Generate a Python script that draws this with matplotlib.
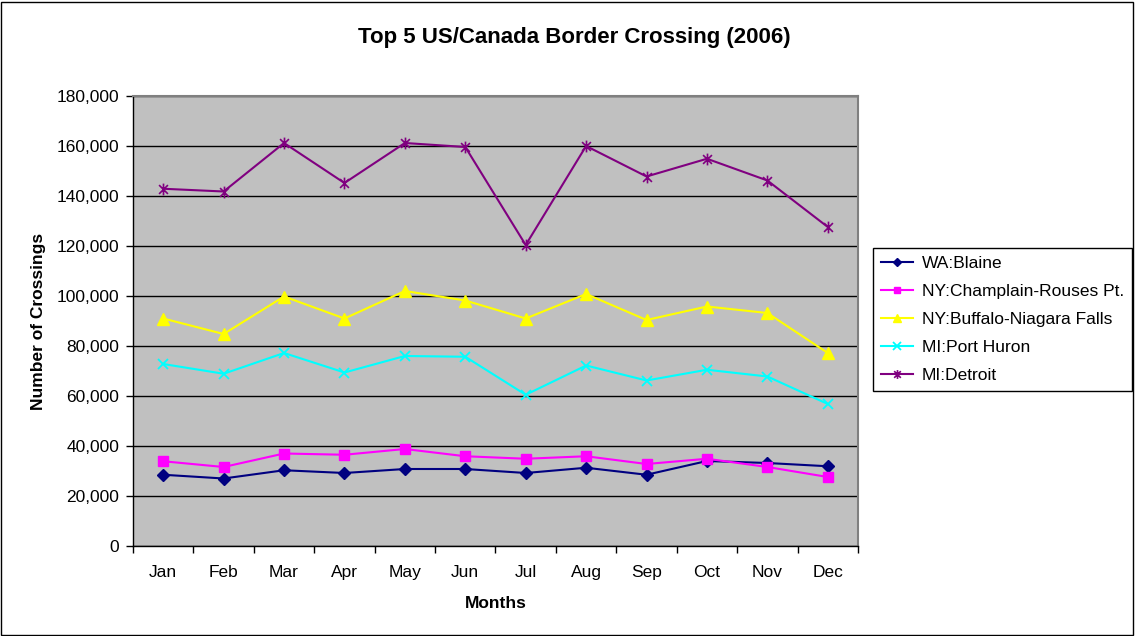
import matplotlib
matplotlib.use("Agg")
import matplotlib.pyplot as plt
from matplotlib.path import Path
from matplotlib.patches import Rectangle

plt.rcParams['font.family'] = ['Liberation Sans', 'DejaVu Sans']

months = ["Jan", "Feb", "Mar", "Apr", "May", "Jun", "Jul", "Aug", "Sep", "Oct", "Nov", "Dec"]
wa_blaine = [28500, 27000, 30300, 29200, 30800, 30800, 29200, 31300, 28500, 34000, 33200, 31900]
ny_champlain = [33900, 31600, 37000, 36500, 38800, 35900, 34900, 35900, 32800, 34900, 31600, 27600]
ny_buffalo = [91000, 84800, 99800, 91000, 102000, 98200, 91000, 100800, 90400, 95800, 93200, 77200]
mi_port_huron = [72800, 68900, 77200, 69400, 76000, 75700, 60500, 72200, 66200, 70500, 67800, 56800]
mi_detroit = [142900, 141800, 161200, 145200, 161200, 159600, 120400, 160000, 147800, 154900, 146200, 127600]
y_ticks = [0, 20000, 40000, 60000, 80000, 100000, 120000, 140000, 160000, 180000]

series = [
    ("WA:Blaine", wa_blaine),
    ("NY:Champlain-Rouses Pt.", ny_champlain),
    ("NY:Buffalo-Niagara Falls", ny_buffalo),
    ("MI:Port Huron", mi_port_huron),
    ("MI:Detroit", mi_detroit),
]

star = Path([(0, -1), (0, 1), (-0.75, -0.75), (0.75, 0.75), (-0.75, 0.75), (0.75, -0.75)],
            [Path.MOVETO, Path.LINETO, Path.MOVETO, Path.LINETO, Path.MOVETO, Path.LINETO])
styles = [
    dict(color="#000080", marker="D", markersize=6),
    dict(color="#FF00FF", marker="s", markersize=6.5),
    dict(color="#FFFF00", marker="^", markersize=8),
    dict(color="#00FFFF", marker="x", markersize=7.5, markeredgewidth=1.3),
    dict(color="#800080", marker=star, markersize=8.5, markeredgewidth=1.2),
]

FS = 12.5

fig = plt.figure(figsize=(11.35, 6.36), dpi=100)
fig.patch.set_facecolor("white")
ax = fig.add_axes([133/1135, 1-546/636, (858-133)/1135, 450/636])
ax.set_facecolor("#C0C0C0")

x = list(range(len(months)))
for (label, vals), st in zip(series, styles):
    ax.plot(x, vals, label=label, linewidth=1.5, **st)

ax.set_xlim(-0.5, len(months) - 0.5)
ax.set_ylim(0, 180000)
ax.set_yticks(y_ticks)
ax.set_yticklabels([f"{v:,}" for v in y_ticks], fontsize=FS)
ax.set_xticks(x)
ax.set_xticklabels(months, fontsize=FS)
ax.set_xticks([i - 0.5 for i in range(len(months) + 1)], minor=True)
ax.tick_params(axis="x", which="major", length=0, pad=14)
ax.tick_params(axis="x", which="minor", length=5, direction="out", width=1)
ax.tick_params(axis="y", length=5, direction="out", width=1, pad=5)
ax.grid(axis="y", color="black", linewidth=1)
ax.set_axisbelow(True)
for s in ["top", "right"]:
    ax.spines[s].set_color("#808080")
    ax.spines[s].set_linewidth(1.5)
for s in ["left", "bottom"]:
    ax.spines[s].set_color("black")
    ax.spines[s].set_linewidth(1)

ax.set_xlabel("Months", fontsize=FS, fontweight="bold", labelpad=11)
ax.set_ylabel("Number of Crossings", fontsize=FS, fontweight="bold", labelpad=7.5)
fig.text(574/1135, 1-37/636, "Top 5 US/Canada Border Crossing (2006)",
         ha="center", va="center", fontsize=16, fontweight="bold")

leg = fig.legend(loc="upper left", bbox_to_anchor=(873/1135, 1-248/636), fontsize=FS,
                 frameon=True, fancybox=False, edgecolor="black", framealpha=1,
                 handlelength=1.85, handletextpad=0.5, labelspacing=0.74,
                 borderaxespad=0, borderpad=0.45)
leg.get_frame().set_linewidth(1)
for h in leg.legend_handles:
    h.set_markersize(h.get_markersize() * 0.75)

fig.patches.append(Rectangle((1/1135, 1/636), 1132/1135, 633/636, transform=fig.transFigure,
                             fill=False, edgecolor="black", linewidth=1))

fig.savefig("out.png", dpi=100)
